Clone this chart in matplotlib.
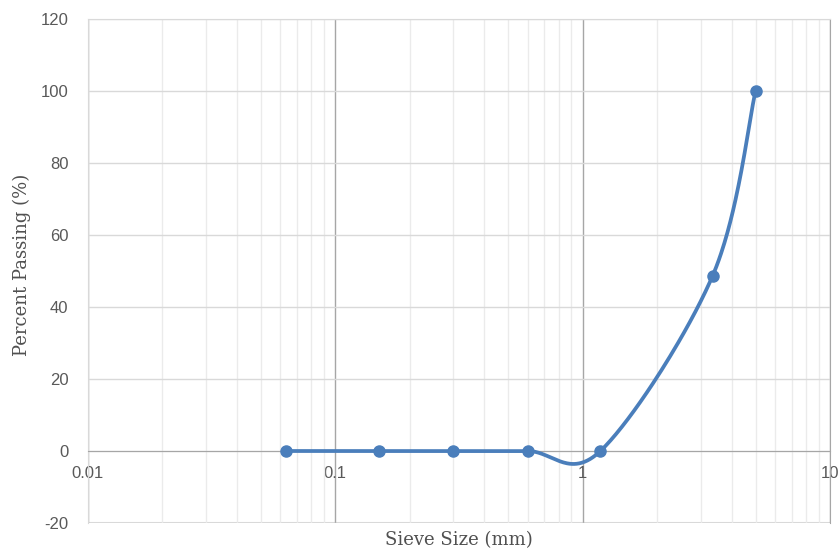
import numpy as np
import matplotlib
matplotlib.use("Agg")
import matplotlib.pyplot as plt
from matplotlib.ticker import LogLocator, FixedLocator, NullFormatter

plt.rcParams["axes.unicode_minus"] = False

# sieve analysis (BS sieves)
sieve_mm = [0.063, 0.15, 0.3, 0.6, 1.18, 3.35, 5.0]
passing = [0, 0, 0, 0, 0, 48.6, 100]

x_ticks = [0.01, 0.1, 1, 10]
x_tick_labels = ["0.01", "0.1", "1", "10"]
y_ticks = [-20, 0, 20, 40, 60, 80, 100, 120]

LINE = "#4a7ebb"
TICK_COL = "#595959"


def excel_smooth(xs, ys, n=60):
    # Excel-style smoothed line: bezier segments, control points from neighbours / 6
    lx = np.log10(xs)
    ys = np.asarray(ys, dtype=float)
    P = np.column_stack([lx, ys])
    out = []
    for i in range(len(P) - 1):
        p0 = P[i - 1] if i > 0 else P[i]
        p1 = P[i]
        p2 = P[i + 1]
        p3 = P[i + 2] if i + 2 < len(P) else P[i + 1]
        c1 = p1 + (p2 - p0) / 6.0
        c2 = p2 - (p3 - p1) / 6.0
        t = np.linspace(0, 1, n)[:, None]
        seg = ((1 - t) ** 3) * p1 + 3 * ((1 - t) ** 2) * t * c1 + 3 * (1 - t) * t ** 2 * c2 + t ** 3 * p2
        out.append(seg if i == 0 else seg[1:])
    curve = np.vstack(out)
    return 10 ** curve[:, 0], curve[:, 1]


fig = plt.figure(figsize=(8.39, 5.51), dpi=100)
ax = fig.add_axes([88 / 839, 28 / 551, 742 / 839, 504 / 551])

ax.set_xscale("log")
ax.set_xlim(0.01, 10)
ax.set_ylim(-20, 120)

ax.xaxis.set_major_locator(FixedLocator(x_ticks))
ax.set_xticklabels(x_tick_labels)
ax.xaxis.set_minor_locator(LogLocator(base=10, subs=np.arange(2, 10)))
ax.xaxis.set_minor_formatter(NullFormatter())
ax.set_yticks(y_ticks)

# gridlines
ax.grid(which="minor", axis="x", color="#ebebeb", linewidth=1.0)
ax.grid(which="major", axis="x", color="#a6a6a6", linewidth=1.0)
ax.grid(which="major", axis="y", color="#d9d9d9", linewidth=1.0)
ax.set_axisbelow(True)

for s in ["top", "left"]:
    ax.spines[s].set_color("#d9d9d9")
ax.spines["right"].set_color("#a6a6a6")
ax.spines["bottom"].set_position(("data", 0))
ax.spines["bottom"].set_color("#a6a6a6")
ax.axhline(-20, color="#d9d9d9", linewidth=1.5, zorder=0)

ax.tick_params(which="both", length=0)
ax.tick_params(axis="y", pad=14, labelsize=12, labelcolor=TICK_COL)
ax.tick_params(axis="x", pad=11, labelsize=12, labelcolor=TICK_COL)
for lab in ax.get_xticklabels() + ax.get_yticklabels():
    lab.set_fontfamily("Liberation Sans")

cx, cy = excel_smooth(sieve_mm, passing)
ax.plot(cx, cy, color=LINE, linewidth=2.7, solid_capstyle="round", zorder=3)
ax.plot(sieve_mm, passing, "o", color=LINE, markersize=8, zorder=4)

fig.text(459 / 839, 1 - 540 / 551, "Sieve Size (mm)", ha="center", va="center",
         fontsize=13, family="DejaVu Serif", color="#505050")
fig.text(22 / 839, 1 - 265 / 551, "Percent Passing (%)", ha="center", va="center",
         rotation=90, fontsize=13, family="DejaVu Serif", color="#505050")

fig.savefig("out.png", dpi=100)
